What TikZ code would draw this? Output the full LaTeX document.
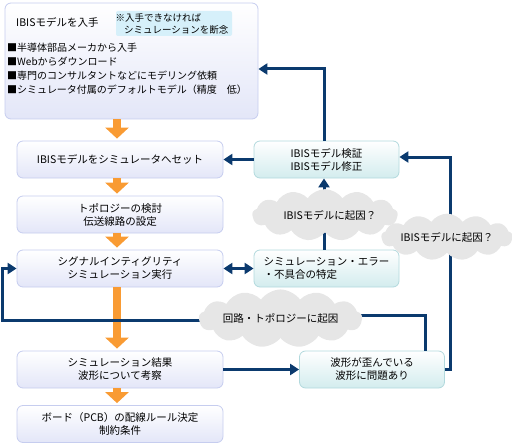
\documentclass[tikz,border=0pt]{standalone}
\usepackage{fontspec}
\setmainfont{Noto Sans CJK JP}
\usetikzlibrary{shapes.symbols,arrows.meta,calc}
\definecolor{navy}{HTML}{0B3A6E}
\definecolor{orng}{HTML}{F99B33}
\definecolor{lavb}{HTML}{C6CDEF}
\definecolor{lavf}{HTML}{E3E6F8}
\definecolor{tealb}{HTML}{B2D9DD}
\definecolor{tealf}{HTML}{D3ECEE}
\definecolor{notec}{HTML}{D6F0FA}
\definecolor{cloudg}{HTML}{E6E6E6}
\begin{document}
\begin{tikzpicture}[x=1pt,y=-1pt,
  txt/.style={font=\fontsize{10.5}{13}\selectfont, align=center, inner sep=0},
  lbox/.style={draw=lavb, line width=0.8pt, rounded corners=6pt, top color=white, bottom color=lavf, minimum width=206, minimum height=37, txt},
  rbox/.style={draw=tealb, line width=0.8pt, rounded corners=6pt, top color=white, bottom color=tealf, minimum width=145, minimum height=37, txt},
  cloudn/.style={cloud, cloud puffs=13, cloud puff arc=110, aspect=4.2, fill=cloudg, draw=none, inner sep=0, txt},
  conn/.style={draw=navy, line width=3pt, -{Triangle[length=9pt,width=11pt]}},
  oarr/.style={draw=orng, line width=8pt, -{Triangle[length=11pt,width=23pt]}, shorten >=2pt}
]
\useasboundingbox (0,0) rectangle (512,444);
% top box
\node[draw=lavb, line width=0.8pt, rounded corners=6pt, top color=white, bottom color=lavf, minimum width=253, minimum height=116] (top) at (131.5,61) {};
\node[fill=notec, rounded corners=2pt, minimum width=116, minimum height=25] (note) at (174,23.5) {};
\node[txt, font=\fontsize{9.5}{12}\selectfont, align=left] (notet) at (172,23.5) {※入手できなければ\\\hspace{0.9em}シミュレーションを断念};
\node[txt, anchor=west] (topt) at (16,22) {IBISモデルを入手};
\node[txt, anchor=west, align=left, font=\fontsize{10}{14}\selectfont] (bul) at (7,69) {■半導体部品メーカから入手\\■Webからダウンロード\\■専門のコンサルタントなどにモデリング依頼\\■シミュレータ付属のデフォルトモデル（精度　低）};
% left boxes
\node[lbox] (b2) at (120,159.5) {IBISモデルをシミュレータへセット};
\node[lbox] (b3) at (120,214.5) {トポロジーの検討\\伝送線路の設定};
\node[lbox] (b4) at (120,268.5) {シグナルインティグリティ\\シミュレーション実行};
\node[lbox] (b5) at (120,369.5) {シミュレーション結果\\波形について考察};
\node[lbox] (b6) at (120,424) {ボード（PCB）の配線ルール決定\\制約条件};
% right boxes
\node[rbox] (rv) at (326.5,159.5) {IBISモデル検証\\IBISモデル修正};
\node[rbox, align=left] (re) at (326.5,268.5) {シミュレーション・エラー\\・不具合の特定};
\node[rbox] (rw) at (372,369.5) {波形が歪んでいる\\波形に問題あり};
% orange arrows
\coordinate (ax) at (117,0);
\draw[oarr] (ax |- top.south) -- (ax |- b2.north);
\draw[oarr] (ax |- b2.south) -- (ax |- b3.north);
\draw[oarr] (ax |- b3.south) -- (ax |- b4.north);
\draw[oarr] (ax |- b4.south) -- (ax |- b5.north);
\draw[oarr] (ax |- b5.south) -- (ax |- b6.north);
% navy connectors
\draw[conn] ($(rv.north)+(-2.5,0)$) |- (top.east |- 0,69);
\draw[conn] (rv.west) -- (b2.east);
\draw[conn] ($(re.north)+(-2.5,0)$) -- ($(rv.south)+(-2.5,0)$);
\draw[conn, {Triangle[length=9pt,width=11pt]}-{Triangle[length=9pt,width=11pt]}] (b4.east) -- (re.west);
\draw[conn] (b5.east) -- (rw.west);
\draw[conn] (rw.east) -| (450,157) -- (rv.east |- 0,157);
\draw[conn] (rw.north -| 425,0) -- (425,315) -- (340,315) -- (340,320) -- (2,320) |- (b4.west);
% clouds
\node[cloudn, minimum width=125, minimum height=30] (c1) at (325,215) {\hspace*{10pt}IBISモデルに起因？};
\node[cloudn, minimum width=121, minimum height=30] (c2) at (447,237) {IBISモデルに起因？};
\node[cloudn, minimum width=135, minimum height=36] (c3) at (280.5,318.5) {回路・トポロジーに起因};
\end{tikzpicture}
\end{document}
